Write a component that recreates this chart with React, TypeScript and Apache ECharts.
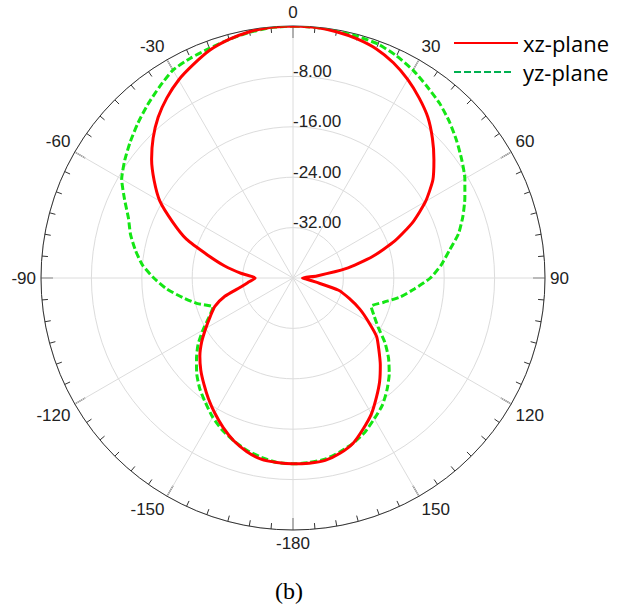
import React, { useEffect, useRef } from "react";
import * as echarts from "echarts";

// Angles (degrees, clockwise from 0 at the top) and gains (dB)
const angles: number[] = [
  0, 5, 10, 15, 20, 25, 30, 35, 40, 45, 50, 55, 60, 65, 70, 75, 80, 85, 90, 95,
  100, 105, 110, 115, 120, 125, 130, 135, 140, 145, 150, 155, 160, 165, 170, 175,
  180, 185, 190, 195, 200, 205, 210, 215, 220, 225, 230, 235, 240, 245, 250, 255,
  260, 265, 270, 275, 280, 285, 290, 295, 300, 305, 310, 315, 320, 325, 330, 335,
  340, 345, 350, 355, 360,
];

const xzPlane: number[] = [
  0, -0.05, -0.3, -0.7, -1.3, -2.3, -3.6, -5.1, -6.7, -8.7, -10.8, -12.9, -15.7, -19.0, -22.8, -27.0, -31.5, -36.2, -38.5, -37.8,
  -36.4, -32.5, -30.5, -28.3, -26.2, -23.8, -22.2, -20.4, -18.6, -16.9, -15.1, -13.6, -12.1, -11.2, -10.6, -10.5,
  -10.5, -10.6, -10.8, -11.5, -12.5, -13.8, -15.2, -16.6, -18.0, -19.3, -20.7, -22.3, -24.0, -25.5, -26.8, -28.8,
  -31.5, -33.0, -34.0, -31.8, -29.0, -26.0, -22.0, -18.9, -15.6, -13.1, -10.7, -8.6, -6.7, -5.1, -3.7, -2.6,
  -1.5, -0.8, -0.3, -0.05, 0,
];

const yzPlane: number[] = [
  0, -0.05, -0.15, -0.3, -0.5, -1.1, -1.9, -2.9, -3.8, -4.9, -6.1, -7.3, -8.5, -9.9, -11.3, -12.8, -14.8, -16.4, -18.2, -20.6,
  -22.7, -25.1, -26.8, -25.8, -24.4, -22.2, -20.2, -18.4, -16.8, -15.3, -14.2, -13.0, -12.1, -11.4, -10.8, -10.6,
  -10.5, -10.6, -11.1, -11.7, -12.5, -13.4, -14.5, -15.8, -17.0, -18.4, -20.0, -21.6, -23.5, -25.3, -26.5, -24.3,
  -22.2, -19.9, -17.9, -16.0, -14.6, -13.3, -12.2, -10.5, -8.6, -7.4, -6.3, -5.2, -4.1, -3.0, -1.9, -1.5,
  -1.2, -0.8, -0.4, -0.1, 0,
];

const seriesNames: string[] = ["xz-plane", "yz-plane"];
const radiusMin = -40;
const radiusMax = 0;
const radiusStep = 8;
const angleStep = 30;

const App: React.FC = () => {
  const ref = useRef<HTMLDivElement>(null);

  useEffect(() => {
    if (!ref.current) return;
    const chart = echarts.init(ref.current, undefined, { renderer: "svg" });
    const font = "Liberation Sans";
    const toData = (vals: number[]) => vals.map((v, i) => [v, angles[i]]);
    const legendText = { fontFamily: "Open Sans", fontSize: 22, color: "#000" };

    chart.setOption({
      animation: false,
      backgroundColor: "#fff",
      title: {
        text: "(b)",
        left: 275,
        top: 579,
        padding: 0,
        textStyle: { fontFamily: "Liberation Serif", fontSize: 24, fontWeight: "normal", color: "#000" },
      },
      legend: [
        {
          data: [{ name: seriesNames[0], icon: "inherit" }],
          left: 453,
          top: 32,
          padding: 0,
          itemWidth: 64,
          itemHeight: 12,
          selectedMode: false,
          itemStyle: { opacity: 0 },
          textStyle: legendText,
        },
        {
          data: [{ name: seriesNames[1], icon: "inherit", lineStyle: { color: "#00b050" } }],
          left: 453,
          top: 61,
          padding: 0,
          itemWidth: 58,
          itemHeight: 12,
          selectedMode: false,
          itemStyle: { opacity: 0 },
          textStyle: { ...legendText, padding: [0, 0, 0, 6] },
        },
      ],
      polar: { center: [293, 278], radius: 252 },
      angleAxis: {
        type: "value",
        min: 0,
        max: 360,
        interval: angleStep,
        startAngle: 90,
        clockwise: true,
        axisLine: { show: true, lineStyle: { color: "#333", width: 1 } },
        axisTick: { show: true, inside: true, length: 12, lineStyle: { color: "#333", width: 1.2 } },
        minorTick: { show: true, splitNumber: 6, length: 6, lineStyle: { color: "#333", width: 1 } },
        axisLabel: {
          margin: 5,
          fontFamily: font,
          fontSize: 17,
          color: "#222",
          formatter: (v: number) => (v >= 360 ? "" : v >= 180 ? String(v - 360) : String(v)),
        },
        splitLine: { show: true, lineStyle: { color: "#dcdcdc", width: 1 } },
      },
      radiusAxis: {
        type: "value",
        min: radiusMin,
        max: radiusMax,
        interval: radiusStep,
        axisLine: { show: false },
        axisTick: { show: false },
        axisLabel: {
          margin: 0,
          align: "left",
          verticalAlign: "bottom",
          lineHeight: 10,
          fontFamily: font,
          fontSize: 17,
          color: "#222",
          formatter: (v: number) => (v === radiusMin || v === radiusMax ? "" : v.toFixed(2)),
        },
        splitLine: { show: true, lineStyle: { color: "#dcdcdc", width: 1 } },
      },
      series: [
        {
          name: seriesNames[1],
          type: "line",
          coordinateSystem: "polar",
          symbol: "none",
          smooth: 0.2,
          lineStyle: { color: "#14e614", width: 3, type: [7, 3] },
          itemStyle: { color: "#14e614" },
          data: toData(yzPlane),
          z: 2,
        },
        {
          name: seriesNames[0],
          type: "line",
          coordinateSystem: "polar",
          symbol: "none",
          smooth: 0.2,
          lineStyle: { color: "#ff0000", width: 3 },
          itemStyle: { color: "#ff0000" },
          data: toData(xzPlane),
          z: 3,
        },
      ],
    });

    return () => chart.dispose();
  }, []);

  return (
    <div
      ref={ref}
      style={{ position: "fixed", left: 0, top: 0, width: 636, height: 610, background: "#fff" }}
    />
  );
};

export default App;
